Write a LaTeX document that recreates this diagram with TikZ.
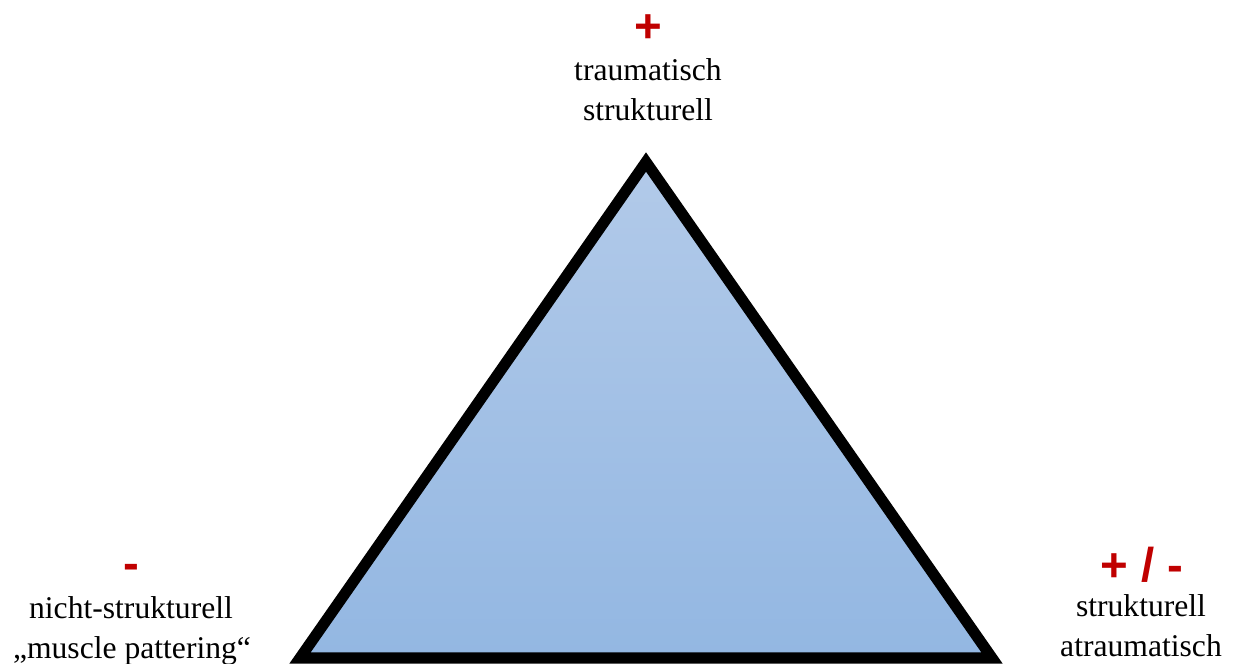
\documentclass[tikz,border=0pt]{standalone}
\usepackage{fontspec}
\setmainfont{Liberation Serif}
\newfontfamily\signfont{Liberation Sans}
\usetikzlibrary{positioning,calc}
\definecolor{signred}{HTML}{C00000}
\definecolor{triatop}{HTML}{B2CAE9}
\definecolor{triabottom}{HTML}{93B7E2}

\tikzset{
    lbl/.style={anchor=base, inner sep=0pt, font=\fontsize{18pt}{22pt}\selectfont},
    sign/.style={anchor=base, inner sep=0pt, text=signred, font=\signfont\bfseries\fontsize{27pt}{30pt}\selectfont}
}

\begin{document}
\begin{tikzpicture}[x=0.02cm, y=-0.02cm]
                \useasboundingbox (0,0) rectangle (1234,663);
                \clip (0,0) rectangle (1234,663);

                % Triangle corners
                \coordinate (apex) at (646,162);
                \coordinate (cleft) at (300,658);
                \coordinate (cright) at (992,658);
                \draw[line width=6.3pt, top color=triatop, bottom color=triabottom] (apex) -- (cleft) -- (cright) -- cycle;

                % Top
                \node[sign] (topsign) at (648,42) {+};
                \node[lbl] (toptext1) at (648,80) {traumatisch};
                \node[lbl] (toptext2) at (648,120) {strukturell};

                % Left
                \node[sign] (leftsign) at (131,579) {-};
                \node[lbl] (lefttext1) at (131,618) {nicht-strukturell};
                \node[lbl] (lefttext2) at (132,658) {„muscle pattering“};

                % Right
                \node[sign] (rightsign) at (1142,581) {+ / -};
                \node[lbl] (righttext1) at (1141,616) {strukturell};
                \node[lbl] (righttext2) at (1141,656) {atraumatisch};
            \end{tikzpicture}
\end{document}
